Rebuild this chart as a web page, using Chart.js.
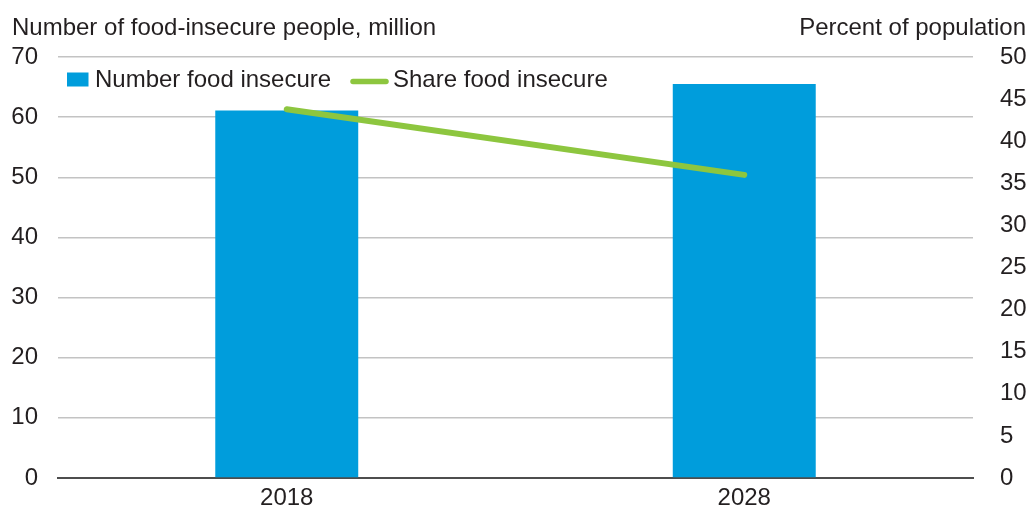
<!DOCTYPE html>
<html>
<head>
<meta charset="utf-8">
<script src="https://cdn.jsdelivr.net/npm/chart.js@4.4.1/dist/chart.umd.min.js"></script>
<style>
  html, body { margin: 0; padding: 0; background: #ffffff; }
  #wrap { width: 1031px; height: 506px; position: relative; }
</style>
</head>
<body>
<div id="wrap"><canvas id="c" width="1031" height="506"></canvas></div>
<script>
// Years shown on the category axis
const years = ['2018', '2028'];
// Number of food-insecure people, million (left axis)
const numberFoodInsecure = [61.1, 65.5];
// Share of population food insecure, percent (right axis)
const shareFoodInsecure = [43.8, 36.0];
// Axis tick values
const leftTicks = [0, 10, 20, 30, 40, 50, 60, 70];
const rightTicks = [0, 5, 10, 15, 20, 25, 30, 35, 40, 45, 50];

const leftTitle = 'Number of food-insecure people, million';
const rightTitle = 'Percent of population';

const FONT = '"Liberation Sans", Arial, Helvetica, sans-serif';
const FS = 24;
const TEXT = '#231f20';
const BLUE = '#009ddc';
const GREEN = '#8dc63f';

// Axis titles above the plot and the legend inside it
const decorations = {
  id: 'decorations',
  afterDraw(chart) {
    const ctx = chart.ctx;
    const bars = chart.data.datasets.find(d => d.type === 'bar');
    const line = chart.data.datasets.find(d => d.type === 'line');
    ctx.save();
    ctx.font = FS + 'px ' + FONT;
    ctx.fillStyle = TEXT;
    ctx.textBaseline = 'alphabetic';
    ctx.textAlign = 'left';
    ctx.fillText(leftTitle, 12, 35);
    ctx.textAlign = 'right';
    ctx.fillText(rightTitle, 1026, 35);

    // legend
    const ly = 80;
    ctx.fillStyle = bars.backgroundColor;
    ctx.fillRect(67, 72.5, 21.5, 14);
    ctx.fillStyle = TEXT;
    ctx.textAlign = 'left';
    ctx.textBaseline = 'middle';
    ctx.fillText(bars.label, 95, ly);

    ctx.strokeStyle = line.borderColor;
    ctx.lineWidth = 5.5;
    ctx.lineCap = 'round';
    ctx.beginPath();
    ctx.moveTo(353, 81.5);
    ctx.lineTo(386, 81.5);
    ctx.stroke();
    ctx.fillText(line.label, 393, ly);
    ctx.restore();
  }
};

new Chart(document.getElementById('c'), {
  data: {
    labels: years,
    datasets: [
      {
        type: 'line',
        label: 'Share food insecure',
        data: shareFoodInsecure,
        yAxisID: 'yRight',
        borderColor: GREEN,
        backgroundColor: GREEN,
        borderWidth: 6,
        borderCapStyle: 'round',
        pointRadius: 0,
        tension: 0,
        order: 0
      },
      {
        type: 'bar',
        label: 'Number food insecure',
        data: numberFoodInsecure,
        yAxisID: 'yLeft',
        backgroundColor: BLUE,
        borderWidth: 0,
        categoryPercentage: 1,
        barPercentage: 0.3125,
        order: 1
      }
    ]
  },
  options: {
    responsive: false,
    animation: false,
    layout: { padding: { top: 57, bottom: 0, left: 0, right: 0 } },
    plugins: { legend: { display: false }, tooltip: { enabled: false } },
    scales: {
      x: {
        grid: { display: false, drawTicks: false },
        border: { display: true, color: '#4d4d4d', width: 2 },
        ticks: { color: TEXT, font: { family: FONT, size: FS }, padding: 6 },
        afterFit(s) { s.height = 28; }
      },
      yLeft: {
        position: 'left',
        min: 0, max: 70,
        afterBuildTicks(s) { s.ticks = leftTicks.map(v => ({ value: v })); },
        grid: {
          drawTicks: false,
          color: ctx => ctx.tick && ctx.tick.value === 0 ? 'rgba(0,0,0,0)' : '#c3c3c3',
          lineWidth: 1.5
        },
        border: { display: false },
        ticks: { color: TEXT, font: { family: FONT, size: FS }, padding: 20 },
        afterFit(s) { s.width = 58; s.paddingTop = 0; s.paddingBottom = 0; }
      },
      yRight: {
        position: 'right',
        min: 0, max: 50,
        afterBuildTicks(s) { s.ticks = rightTicks.map(v => ({ value: v })); },
        grid: { display: false, drawTicks: false },
        border: { display: false },
        ticks: { color: TEXT, font: { family: FONT, size: FS }, padding: 27 },
        afterFit(s) { s.width = 58; s.paddingTop = 0; s.paddingBottom = 0; }
      }
    }
  },
  plugins: [decorations]
});
</script>
</body>
</html>
